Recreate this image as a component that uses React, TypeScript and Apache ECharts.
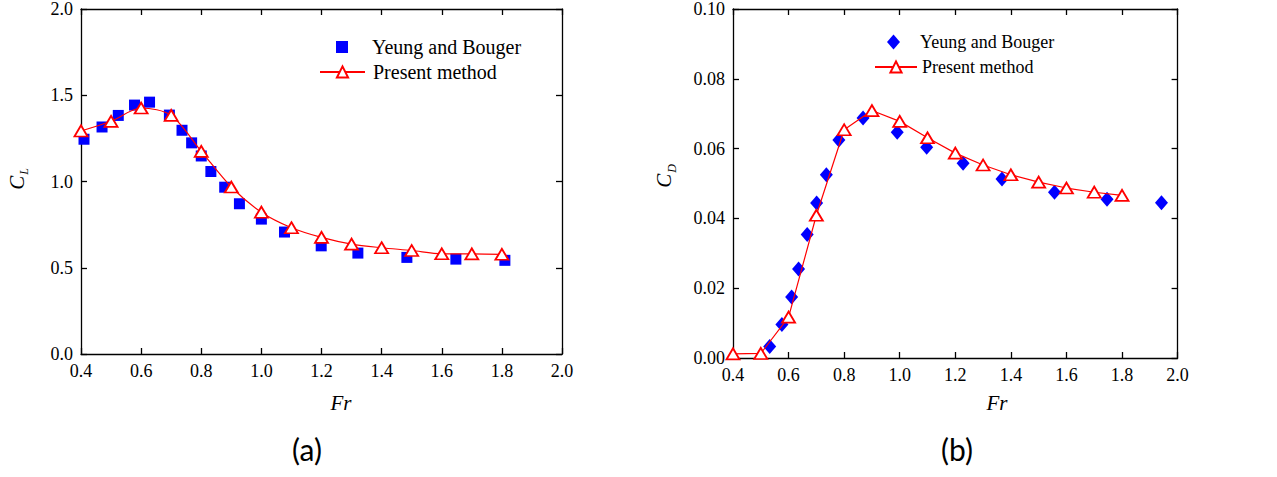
import React, { useEffect, useRef } from 'react';
import * as echarts from 'echarts';

// ---- Data ----
// (a) Lift coefficient C_L vs Froude number
const clYeungFr = [0.41, 0.47, 0.524, 0.578, 0.628, 0.694, 0.736, 0.768, 0.8, 0.832, 0.878, 0.927, 1.0, 1.077, 1.199, 1.321, 1.484, 1.647, 1.81];
const clYeungVal = [1.245, 1.316, 1.383, 1.443, 1.46, 1.385, 1.297, 1.224, 1.148, 1.058, 0.967, 0.871, 0.782, 0.707, 0.627, 0.585, 0.56, 0.55, 0.543];
const clPresentFr = [0.4, 0.5, 0.6, 0.7, 0.8, 0.9, 1.0, 1.1, 1.2, 1.3, 1.4, 1.5, 1.6, 1.7, 1.8];
const clPresentVal = [1.293, 1.349, 1.426, 1.383, 1.175, 0.968, 0.822, 0.732, 0.676, 0.637, 0.616, 0.6, 0.581, 0.58, 0.578];

// (b) Drag coefficient C_D vs Froude number
const cdYeungFr = [0.532, 0.576, 0.611, 0.636, 0.667, 0.701, 0.736, 0.781, 0.868, 0.991, 1.097, 1.228, 1.368, 1.557, 1.746, 1.942];
const cdYeungVal = [0.0033, 0.0096, 0.0175, 0.0255, 0.0354, 0.0444, 0.0525, 0.0625, 0.0688, 0.0647, 0.0604, 0.0558, 0.0513, 0.0475, 0.0455, 0.0445];
const cdPresentFr = [0.4, 0.5, 0.6, 0.7, 0.8, 0.9, 1.0, 1.1, 1.2, 1.3, 1.4, 1.5, 1.6, 1.7, 1.8];
const cdPresentVal = [0.0012, 0.0013, 0.0117, 0.0409, 0.0654, 0.0709, 0.0678, 0.0631, 0.0587, 0.0553, 0.0525, 0.0504, 0.0487, 0.0475, 0.0466];

const frRange = { min: 0.4, max: 2.0, interval: 0.2 };
const clRange = { min: 0, max: 2.0, interval: 0.5 };
const cdRange = { min: 0, max: 0.1, interval: 0.02 };

const SERIF = 'Liberation Serif';
const SANS = 'Lato';
const BLUE = '#0000ff';
const RED = '#ff0000';

const pairs = (xs: number[], ys: number[]) => xs.map((x, i) => [x, ys[i]]);

function axis(gridIndex: number, position: string, range: any, decimals: number, showLabel: boolean, fontSize: number) {
  return {
    gridIndex,
    type: 'value',
    position,
    min: range.min,
    max: range.max,
    interval: range.interval,
    axisLine: { show: true, onZero: false, lineStyle: { color: '#000', width: 1.3 } },
    axisTick: { show: true, inside: true, length: 6, lineStyle: { color: '#000', width: 1.3 } },
    minorTick: { show: false },
    axisLabel: {
      show: showLabel,
      margin: 8,
      color: '#000',
      fontFamily: SERIF,
      fontSize,
      formatter: (v: number) => `{t|${v.toFixed(decimals)}}`,
      rich: { t: { fontFamily: SERIF, fontSize, color: '#000' } },
    },
    splitLine: { show: false },
  };
}

const axisNameStyle = (sub: string) => ({
  text: `{c|C}{s|${sub}}`,
  align: 'center',
  verticalAlign: 'middle',
  rich: {
    c: { fontFamily: SERIF, fontStyle: 'italic', fontSize: 21, fill: '#000' },
    s: { fontFamily: SERIF, fontStyle: 'italic', fontSize: 12, fill: '#000', padding: [15, 0, 0, 1] },
  },
});

export default function App() {
  const ref = useRef<HTMLDivElement>(null);

  useEffect(() => {
    if (!ref.current) return;
    const chart = echarts.init(ref.current, undefined, { renderer: 'svg' });

    const presentLine = (xi: number, data: number[][], smooth: number | boolean) => ({
      type: 'line',
      name: 'Present method',
      xAxisIndex: xi,
      yAxisIndex: xi,
      data,
      smooth,
      symbol: 'triangle',
      symbolSize: [13, 11],
      showSymbol: true,
      itemStyle: { color: '#ffffff', borderColor: RED, borderWidth: 1.8, opacity: 1 },
      lineStyle: { color: RED, width: 1.2 },
      z: 3,
    });

    const legendBase = {
      orient: 'vertical',
      padding: 0,
      selectedMode: false,
      textStyle: { fontFamily: SERIF, color: '#000' },
    };

    chart.setOption({
      animation: false,
      backgroundColor: '#ffffff',
      textStyle: { fontFamily: SERIF },
      grid: [
        { left: 81, top: 9, width: 481, height: 345 },
        { left: 733, top: 8, width: 444.6, height: 350 },
      ],
      xAxis: [
        axis(0, 'bottom', frRange, 1, true, 18),
        axis(0, 'top', frRange, 1, false, 18),
        axis(1, 'bottom', frRange, 1, true, 18),
        axis(1, 'top', frRange, 1, false, 18),
      ],
      yAxis: [
        axis(0, 'left', clRange, 1, true, 18),
        axis(0, 'right', clRange, 1, false, 18),
        axis(1, 'left', cdRange, 2, true, 18),
        axis(1, 'right', cdRange, 2, false, 18),
      ],
      legend: [
        {
          ...legendBase,
          left: 336, top: 37,
          itemWidth: 12, itemHeight: 12,
          data: [{ name: 'Yeung and Bouger', icon: 'rect' }],
          textStyle: { ...legendBase.textStyle, fontSize: 20, lineHeight: 20, padding: [0, 0, 0, 19] },
        },
        {
          ...legendBase,
          left: 319, top: 62,
          itemWidth: 45, itemHeight: 14,
          data: ['Present method'],
          textStyle: { ...legendBase.textStyle, fontSize: 20, lineHeight: 20, padding: [0, 0, 0, 3] },
        },
        {
          ...legendBase,
          left: 887, top: 33,
          itemWidth: 13, itemHeight: 15,
          data: [{ name: 'Yeung and Bouger', icon: 'diamond' }],
          textStyle: { ...legendBase.textStyle, fontSize: 18, lineHeight: 18, padding: [0, 0, 0, 15] },
        },
        {
          ...legendBase,
          left: 874, top: 58,
          itemWidth: 42, itemHeight: 14,
          data: ['Present method'],
          textStyle: { ...legendBase.textStyle, fontSize: 18, lineHeight: 18 },
        },
      ],
      series: [
        {
          type: 'scatter',
          name: 'Yeung and Bouger',
          xAxisIndex: 0,
          yAxisIndex: 0,
          data: pairs(clYeungFr, clYeungVal),
          symbol: 'rect',
          symbolSize: 11,
          itemStyle: { color: BLUE, opacity: 1 },
          z: 2,
        },
        presentLine(0, pairs(clPresentFr, clPresentVal), 0.3),
        {
          type: 'scatter',
          name: 'Yeung and Bouger',
          xAxisIndex: 2,
          yAxisIndex: 2,
          data: pairs(cdYeungFr, cdYeungVal),
          symbol: 'diamond',
          symbolSize: [13, 15],
          itemStyle: { color: BLUE, opacity: 1 },
          z: 2,
        },
        presentLine(2, pairs(cdPresentFr, cdPresentVal), false),
      ],
      graphic: [
        { type: 'text', x: 16.5, y: 179, rotation: Math.PI / 2, style: axisNameStyle('L') },
        { type: 'text', x: 664, y: 176, rotation: Math.PI / 2, style: axisNameStyle('D') },
        {
          type: 'text', x: 341, y: 403,
          style: { text: 'Fr', fontFamily: SERIF, fontStyle: 'italic', fontSize: 21, fill: '#000', align: 'center', verticalAlign: 'middle' },
        },
        {
          type: 'text', x: 997, y: 403,
          style: { text: 'Fr', fontFamily: SERIF, fontStyle: 'italic', fontSize: 21, fill: '#000', align: 'center', verticalAlign: 'middle' },
        },
        {
          type: 'text', x: 307, y: 449,
          style: { text: '(a)', fontFamily: SANS, fontSize: 30, fill: '#000', align: 'center', verticalAlign: 'middle' },
        },
        {
          type: 'text', x: 957, y: 449,
          style: { text: '(b)', fontFamily: SANS, fontSize: 30, fill: '#000', align: 'center', verticalAlign: 'middle' },
        },
      ],
    });

    return () => chart.dispose();
  }, []);

  return (
    <div
      ref={ref}
      style={{ position: 'absolute', left: 0, top: 0, width: 1277, height: 477, background: '#fff' }}
    />
  );
}
